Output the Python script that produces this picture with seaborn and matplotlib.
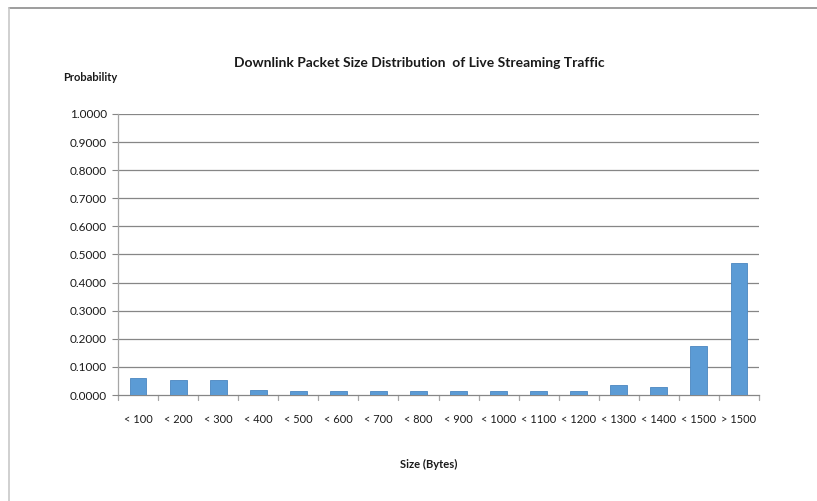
import matplotlib
matplotlib.use("Agg")
import matplotlib.pyplot as plt
import seaborn as sns
import pandas as pd
from matplotlib.lines import Line2D

categories = ["< 100", "< 200", "< 300", "< 400", "< 500", "< 600", "< 700", "< 800",
              "< 900", "< 1000", "< 1100", "< 1200", "< 1300", "< 1400", "< 1500", "> 1500"]
probabilities = [0.061, 0.055, 0.055, 0.019, 0.015, 0.015, 0.015, 0.015,
                 0.015, 0.015, 0.015, 0.015, 0.037, 0.030, 0.173, 0.470]
y_ticks = [0.0, 0.1, 0.2, 0.3, 0.4, 0.5, 0.6, 0.7, 0.8, 0.9, 1.0]

title = "Downlink Packet Size Distribution  of Live Streaming Traffic"
y_label = "Probability"
x_label = "Size (Bytes)"

sns.set_style("white")
FONT = ["Lato", "DejaVu Sans"]
plt.rcParams["font.family"] = FONT

df = pd.DataFrame({"size": categories, "prob": probabilities})

fig = plt.figure(figsize=(8.17, 5.01), dpi=100)
ax = fig.add_axes([118 / 817, 1 - 395 / 501, (759 - 118) / 817, (395 - 114) / 501])

sns.barplot(data=df, x="size", y="prob", ax=ax, color="#5B9BD5", width=0.42,
            saturation=1, edgecolor="#4A86C0", linewidth=0.6, zorder=3)

ax.set_ylim(0, 1.0)
ax.set_xlim(-0.5, len(categories) - 0.5)
ax.set_yticks(y_ticks)
ax.set_yticklabels([f"{v:.4f}" for v in y_ticks], fontsize=8.5)
ax.tick_params(axis="x", labelsize=7.9, length=0, pad=14, colors="#1a1a1a")
ax.tick_params(axis="y", length=4, width=0.8, color="#868686", pad=4, left=True,
               labelcolor="#1a1a1a")
ax.set_xlabel("")
ax.set_ylabel("")

for y in y_ticks[1:]:
    ax.axhline(y, color="#868686", linewidth=0.9, zorder=1)

for s in ["top", "right"]:
    ax.spines[s].set_visible(False)
ax.spines["left"].set_color("#A6A6A6")
ax.spines["left"].set_linewidth(0.9)
ax.spines["bottom"].set_color("#868686")
ax.spines["bottom"].set_linewidth(0.9)

# category boundary tick marks below the axis
for b in range(len(categories) + 1):
    ax.plot([b - 0.5, b - 0.5], [0, -0.018], color="#A6A6A6", linewidth=0.9,
            clip_on=False, zorder=2)

fig.text(419 / 817, 1 - 63 / 501, title, ha="center", va="center",
         fontsize=10, fontweight="bold", color="#1a1a1a")
fig.text(90 / 817, 1 - 77 / 501, y_label, ha="center", va="center",
         fontsize=8, fontweight="bold", color="#1a1a1a")
fig.text(429 / 817, 1 - 464 / 501, x_label, ha="center", va="center",
         fontsize=8, fontweight="bold", color="#1a1a1a")

# outer chart frame (top and left edges)
fig.add_artist(Line2D([9 / 817, 1.0], [1 - 8 / 501, 1 - 8 / 501],
                      transform=fig.transFigure, color="#8C8C8C", linewidth=1.2))
fig.add_artist(Line2D([9 / 817, 9 / 817], [0, 1 - 8 / 501],
                      transform=fig.transFigure, color="#C8C8C8", linewidth=1.2))

fig.savefig("out.png", dpi=100)
